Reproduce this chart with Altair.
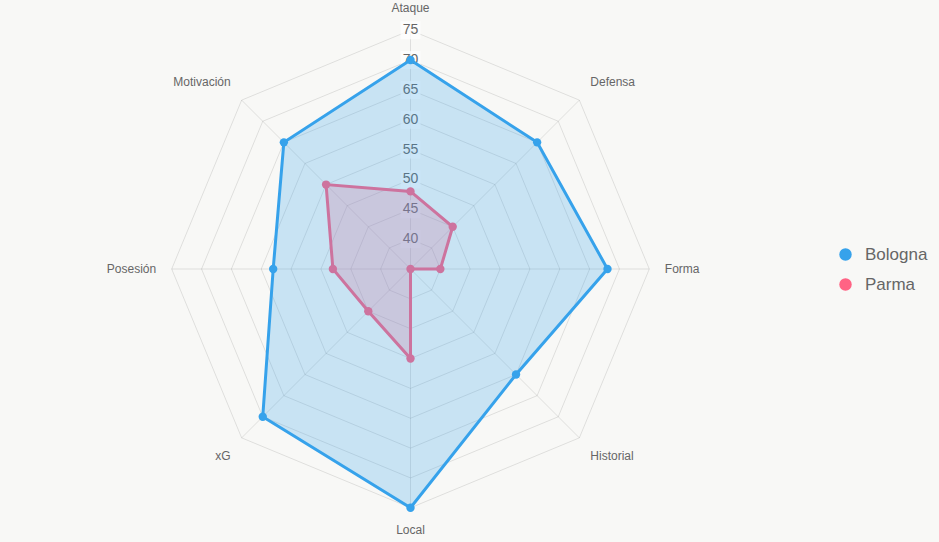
import math
import altair as alt
import pandas as pd

# ---------------- data ----------------
categories = ["Ataque", "Defensa", "Forma", "Historial", "Local", "xG", "Posesión", "Motivación"]
bologna = [70, 65, 68, 60, 75, 70, 58, 65]
parma = [48, 45, 40, 35, 50, 45, 48, 55]
teams = ["Bologna", "Parma"]
team_colors = ["#36A2EB", "#FF6384"]
tick_values = [40, 45, 50, 55, 60, 65, 70, 75]
scale_min = 35
scale_max = 75
label_value = 77.6

FONT = "Liberation Sans, Arial, sans-serif"
TXT = "#666666"
GRID = "rgba(0,0,0,0.1)"

n = len(categories)


def polar(value, i):
    a = 2 * math.pi * i / n
    r = value - scale_min
    return r * math.sin(a), r * math.cos(a)


def series_df(team, values):
    rows = []
    for i, (c, v) in enumerate(zip(categories, values)):
        x, y = polar(v, i)
        rows.append(dict(team=team, idx=i, cat=c, value=v, x=x, y=y))
    return pd.DataFrame(rows)


bol_df = series_df("Bologna", bologna)
par_df = series_df("Parma", parma)

ring_rows = []
for t in tick_values:
    for i in range(n):
        x, y = polar(t, i)
        ring_rows.append(dict(ring=t, idx=i, x=x, y=y))
ring_df = pd.DataFrame(ring_rows)

spoke_rows = []
for i in range(n):
    x, y = polar(scale_max, i)
    spoke_rows.append(dict(idx=i, x0=0.0, y0=0.0, x=x, y=y))
spoke_df = pd.DataFrame(spoke_rows)

tick_df = pd.DataFrame(dict(x=[0.0] * len(tick_values),
                            y=[t - scale_min for t in tick_values],
                            label=[str(t) for t in tick_values]))

lab_rows = []
for i, c in enumerate(categories):
    x, y = polar(label_value, i)
    a = 2 * math.pi * i / n
    s, co = math.sin(a), math.cos(a)
    align = "left" if s > 0.01 else ("right" if s < -0.01 else "center")
    base = "bottom" if co > 0.01 else ("top" if co < -0.01 else "middle")
    lab_rows.append(dict(cat=c, x=x, y=y, align=align, base=base))
lab_df = pd.DataFrame(lab_rows)

# ---------------- scales ----------------
W, H = 939, 542
cx, cy = 410.5, 269.0
pxu = 5.97
xs = alt.Scale(domain=[-cx / pxu, (W - cx) / pxu], nice=False, zero=False)
ys = alt.Scale(domain=[-(H - cy) / pxu, cy / pxu], nice=False, zero=False)
X = alt.X("x:Q", scale=xs, axis=None)
Y = alt.Y("y:Q", scale=ys, axis=None)
color = alt.Color("team:N", scale=alt.Scale(domain=teams, range=team_colors),
                  legend=alt.Legend(orient="none", legendX=837, legendY=246, title=None,
                                    labelFontSize=17, labelColor=TXT, labelFont=FONT,
                                    symbolType="circle", symbolSize=155, symbolStrokeWidth=0,
                                    labelOffset=11, rowPadding=12))

rings = alt.Chart(ring_df).mark_line(interpolate="linear-closed", stroke=GRID, strokeWidth=1).encode(
    x=X, y=Y, detail="ring:N", order="idx:Q")
spokes = alt.Chart(spoke_df).mark_rule(stroke=GRID, strokeWidth=1).encode(
    x=alt.X("x0:Q", scale=xs, axis=None), y=alt.Y("y0:Q", scale=ys, axis=None),
    x2="x:Q", y2="y:Q")
backdrop = alt.Chart(tick_df).mark_rect(width=20, height=18, color="rgba(255,255,255,0.75)").encode(x=X, y=Y)
ticks = alt.Chart(tick_df).mark_text(font=FONT, fontSize=14, color=TXT, baseline="middle", align="center").encode(
    x=X, y=Y, text="label:N")


def team_layers(df, col):
    area = alt.Chart(df).mark_line(interpolate="linear-closed", stroke=col, strokeWidth=3,
                                   fill=col, fillOpacity=0.25).encode(x=X, y=Y, order="idx:Q")
    pts = alt.Chart(df).mark_circle(size=70, opacity=1).encode(x=X, y=Y, color=color)
    return [area, pts]


label_layers = []
for (al, ba), g in lab_df.groupby(["align", "base"]):
    label_layers.append(
        alt.Chart(g).mark_text(font=FONT, fontSize=12, color=TXT, align=al, baseline=ba,
                               dy=(2 if ba == "top" else 0)).encode(
            x=X, y=Y, text="cat:N"))

layers = [rings, spokes, backdrop, ticks] + team_layers(par_df, team_colors[1]) + \
    team_layers(bol_df, team_colors[0]) + label_layers

chart = alt.layer(*layers).properties(
    width=W, height=H, padding=0, autosize=alt.AutoSizeParams(type="none"),
    background="#f8f8f6"
).configure_view(stroke=None)

chart.save("out.html", embed_options={"renderer": "svg", "actions": False})
